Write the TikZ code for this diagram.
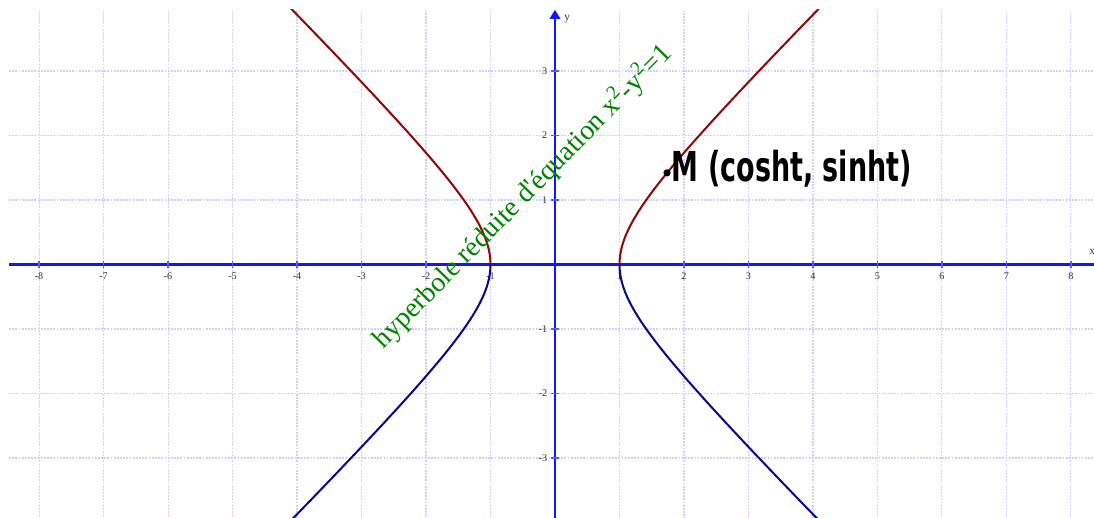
\documentclass[tikz,border=0pt]{standalone}
\usepackage{fontspec}
\setmainfont{Liberation Serif}
\newfontfamily\handfont{DejaVu Sans}
\usepackage{tikz}
\usetikzlibrary{arrows.meta,positioning}
\definecolor{gridblue}{RGB}{208,208,250}
\definecolor{axisblue}{RGB}{20,20,255}
\definecolor{upbranch}{RGB}{140,10,10}
\definecolor{lowbranch}{RGB}{10,10,140}
\definecolor{eqgreen}{RGB}{0,130,0}
\tikzset{
  gridline/.style ={gridblue,line width=0.45pt,dash pattern=on 0.8pt off 0.6pt},
  axisline/.style ={axisblue,line width=0.9pt},
  tickmark/.style ={axisblue!70,line width=0.5pt},
  ticklbl/.style  ={font=\fontsize{4.5}{5}\selectfont,text=black!80,inner sep=1pt},
  axislbl/.style  ={font=\fontsize{5}{6}\selectfont,text=black!80,inner sep=1pt},
  upper/.style    ={upbranch,line width=0.9pt},
  lower/.style    ={lowbranch,line width=0.9pt},
  eqlabel/.style  ={text=eqgreen,font=\fontsize{12.3}{13}\selectfont,rotate=45.5,inner sep=0pt},
  handlabel/.style={font=\handfont\bfseries\fontsize{14}{14}\selectfont,inner sep=0pt,xscale=0.85,yscale=1.3},
}
\begin{document}
\begin{tikzpicture}
  \useasboundingbox (-8.605,-3.930) rectangle (8.357,4.101);
  \clip (-8.605,-3.930) rectangle (8.357,4.101);
  % grid
  \foreach \x in {-8,...,8}{
     \draw[gridline] (\x,-3.95) -- (\x,3.93);
  }
  \foreach \y in {-3,...,3}{
     \draw[gridline] (-8.465,\y) -- (8.5,\y);
  }
  % axes
  \coordinate (xs) at (-8.465,0); \coordinate (xe) at (8.55,0);
  \coordinate (ys) at (0,-3.95);  \coordinate (ye) at (0,3.95);
  \draw[axisline,-{Triangle[width=4.6pt,length=4pt]}] (xs) -- (xe);
  \draw[axisline,-{Triangle[width=4.6pt,length=4pt]}] (ys) -- (ye);
  \node[axislbl] (xlab) at (8.33,0.19) {x};
  \node[axislbl] (ylab) at (0.19,3.81) {y};
  \foreach \x in {-8,...,-1,1,2,...,8}{
     \draw[tickmark] (\x,-0.06) -- (\x,0.06);
     \node[ticklbl] (tx\x) at (\x,-0.18) {\x};
  }
  \foreach \y in {-3,...,-1,1,2,3}{
     \draw[tickmark] (-0.06,\y) -- (0.06,\y);
     \node[ticklbl,anchor=east] (ty\y) at (-0.08,\y) {\y};
  }
  % the four half-branches, cut at the top and bottom of the grid
  \begin{scope}
    \clip (-8.6,-3.95) rectangle (8.4,3.96);
    \foreach \s in {1,-1}{
       \draw[upper] plot[domain=0:2.1,samples=60] ({\s*cosh(\x)},{sinh(\x)});
       \draw[lower] plot[domain=0:2.1,samples=60] ({\s*cosh(\x)},{-sinh(\x)});
    }
  \end{scope}
  \node[eqlabel] (eq) at (-0.5,1.06) {hyperbole réduite d\textquotesingle équation x\textsuperscript{2}-y\textsuperscript{2}=1};
  \coordinate (M) at ({cosh(1.15)},{sinh(1.15)});
  \fill (M) circle (1.6pt);
  \node[handlabel,anchor=west] (Mlab) at ([xshift=2pt,yshift=2pt]M) {M (cosht, sinht)};
\end{tikzpicture}
\end{document}
